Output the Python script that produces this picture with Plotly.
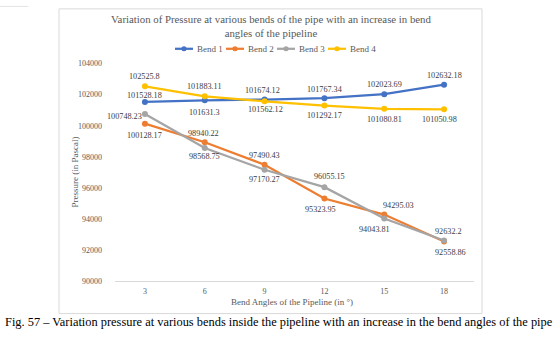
import plotly.graph_objects as go

# ---------------- data ----------------
angles = [3, 6, 9, 12, 15, 18]
series_names = ["Bend 1", "Bend 2", "Bend 3", "Bend 4"]
bend1 = [101528.18, 101631.3, 101674.12, 101767.34, 102023.69, 102632.18]
bend2 = [100128.17, 98940.22, 97490.43, 95323.95, 94295.03, 92558.86]
bend3 = [100748.23, 98568.75, 97170.27, 96055.15, 94043.81, 92632.2]
bend4 = [102525.8, 101883.11, 101562.12, 101292.17, 101080.81, 101050.98]
y_ticks = [90000, 92000, 94000, 96000, 98000, 100000, 102000, 104000]

# label placements (pixel nudges), style only
label_offsets = {
    "Bend 1": [(0, -6), (0, 12), (-2, -9), (0, -9), (0, -10), (0, -9)],
    "Bend 2": [(0, 12), (-1, -9), (0, -9), (-4, 11), (14, -9), (6, 11)],
    "Bend 3": [(-20, 2), (0, 9), (0, 10), (5, -11), (-10, 11), (4, -9)],
    "Bend 4": [(0, -10), (0, -10), (1, 8), (0, 10), (0, 11), (-5, 10)],
}
colors = ["#4472C4", "#ED7D31", "#A5A5A5", "#FFC000"]
all_series = [bend1, bend2, bend3, bend4]

W, H = 560, 340
SERIF = "Liberation Serif, Times New Roman, serif"

def px(x):
    return x / W

def py(y):
    return 1 - y / H

fig = go.Figure()
annotations = []
shapes = []

for name, vals, col in zip(series_names, all_series, colors):
    fig.add_trace(go.Scatter(
        x=angles, y=vals, name=name, mode="lines+markers",
        line=dict(color=col, width=2.25),
        marker=dict(color=col, size=6, symbol="circle"),
        showlegend=False, hoverinfo="x+y",
    ))
    for xv, yv, (dx, dy) in zip(angles, vals, label_offsets[name]):
        annotations.append(dict(
            x=xv, y=yv, xref="x", yref="y", text=str(yv),
            showarrow=False, xshift=dx, yshift=-dy,
            font=dict(family=SERIF, size=8.2, color="#404040"),
        ))

# chart box
shapes.append(dict(type="rect", xref="paper", yref="paper",
                   x0=px(59), x1=px(482), y0=py(318), y1=py(5),
                   line=dict(color="#D9D9D9", width=1), fillcolor="rgba(0,0,0,0)"))
# small stray box top-left
shapes.append(dict(type="line", xref="paper", yref="paper",
                   x0=px(0), x1=px(28), y0=py(2.5), y1=py(2.5),
                   line=dict(color="#E3E3E3", width=1)))

# custom legend
leg_x0 = 175
for i, (name, col) in enumerate(zip(series_names, colors)):
    lx = leg_x0 + i * 51
    shapes.append(dict(type="line", xref="paper", yref="paper",
                       x0=px(lx), x1=px(lx + 18), y0=py(46), y1=py(46),
                       line=dict(color=col, width=2.25)))
    shapes.append(dict(type="circle", xref="paper", yref="paper",
                       x0=px(lx + 9 - 2.6), x1=px(lx + 9 + 2.6),
                       y0=py(46 + 2.6), y1=py(46 - 2.6),
                       line=dict(color=col, width=0), fillcolor=col))
    annotations.append(dict(x=px(lx + 20), y=py(46), xref="paper", yref="paper",
                            text=name, showarrow=False, xanchor="left", yanchor="middle",
                            font=dict(family=SERIF, size=9, color="#595959")))

# title
annotations.append(dict(x=px(271), y=py(23), xref="paper", yref="paper",
                        text="Variation of Pressure at various bends of the pipe with an increase in bend<br>angles of the pipeline",
                        showarrow=False, xanchor="center", yanchor="middle",
                        font=dict(family=SERIF, size=10.8, color="#595959")))
# axis titles
annotations.append(dict(x=px(75), y=py(173), xref="paper", yref="paper",
                        text="Pressure (in Pascal)", textangle=-90, showarrow=False,
                        xanchor="center", yanchor="middle",
                        font=dict(family=SERIF, size=9, color="#595959")))
annotations.append(dict(x=px(292), y=py(306), xref="paper", yref="paper",
                        text="Bend Angles of the Pipeline (in °)", showarrow=False,
                        xanchor="center", yanchor="middle",
                        font=dict(family=SERIF, size=9, color="#595959")))
# caption
annotations.append(dict(x=px(279), y=py(327), xref="paper", yref="paper",
                        text="Fig. 57 – Variation pressure at various bends inside the pipeline with an increase in the bend angles of the pipe",
                        showarrow=False, xanchor="center", yanchor="middle",
                        font=dict(family=SERIF, size=12.4, color="#000000")))

fig.update_layout(
    width=W, height=H,
    margin=dict(l=0, r=0, t=0, b=0),
    paper_bgcolor="white", plot_bgcolor="white",
    xaxis=dict(domain=[px(115), px(474)], range=[1.5, 19.5],
               tickmode="array", tickvals=angles, ticktext=[str(a) for a in angles],
               showgrid=False, zeroline=False, showline=True, linecolor="#D9D9D9",
               linewidth=1, ticks="", ticklen=0, ticklabelstandoff=2,
               tickfont=dict(family=SERIF, size=8, color="#595959")),
    yaxis=dict(domain=[py(285), py(61)], range=[90000, 104000],
               tickmode="array", tickvals=y_ticks, ticktext=[str(t) for t in y_ticks],
               showgrid=False, zeroline=False, showline=False, ticks="",
               ticklabelstandoff=12,
               tickfont=dict(family=SERIF, size=8, color="#595959")),
    annotations=annotations, shapes=shapes,
    showlegend=False,
)

fig.write_html("out.html")
